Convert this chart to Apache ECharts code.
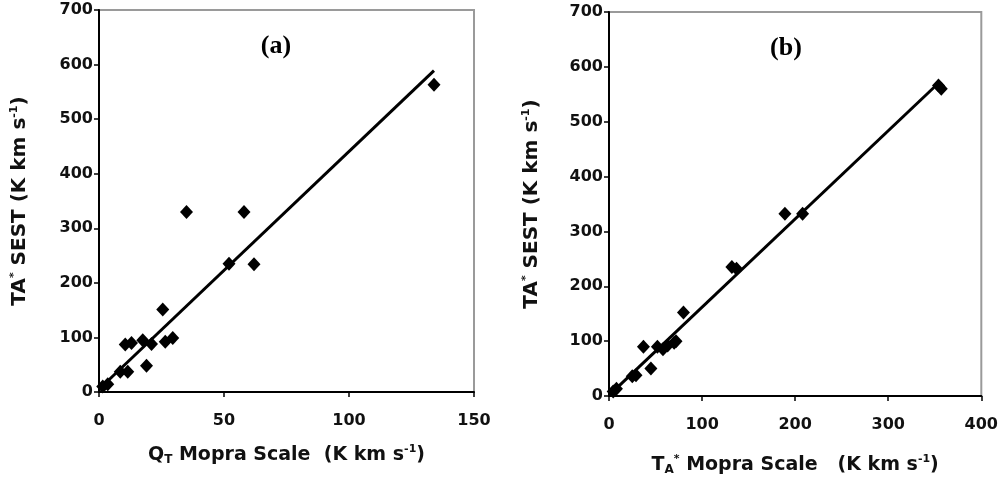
<!DOCTYPE html>
<html>
<head>
<meta charset="utf-8">
<script src="https://cdn.jsdelivr.net/npm/echarts@6/dist/echarts.min.js"></script>
<style>
  html, body { margin: 0; padding: 0; background: #fff; }
  #chartmain { width: 1001px; height: 483px; }
</style>
</head>
<body>
<div id="chartmain"></div>
<script>
// panel (a): QT Mopra scale vs TA* SEST
var qtMopra = [134, 35, 58, 52, 62, 25.5, 10.5, 13, 17.5, 21, 26.5, 29.5, 19, 8.5, 11.5, 1.5, 3.5];
var sestA = [563, 330, 330, 235, 234, 151, 87, 90, 95, 88, 92, 99, 48, 37, 37, 10, 14];
var fitAx = [0, 134];
var fitAy = [5, 589];

// panel (b): TA* Mopra scale vs TA* SEST
var taMopra = [354, 357, 189, 208, 132, 137, 80, 37, 52, 58, 63, 70, 72, 45, 25, 29, 4.5, 8];
var sestB = [566, 560, 332, 332, 235, 232, 152, 90, 90, 85, 92, 97, 100, 50, 36, 38, 8, 13];
var fitBx = [0, 355];
var fitBy = [1, 572];

var yTicks = [0, 100, 200, 300, 400, 500, 600, 700];

function pairs(xs, ys) {
	var out = [];
	for (var i = 0; i < xs.length; i++) {
		out.push([xs[i], ys[i]]);
	}
	return out;
}

var labelFont = {
	fontFamily : 'DejaVu Sans',
	fontWeight : 'bold',
	fontSize : 16,
	color : '#111'
};

var nameRich = {
	sup : { fontSize : 11, fontWeight : 'bold', verticalAlign : 'top', lineHeight : 22, fontFamily : 'DejaVu Sans', color : '#111' },
	sub : { fontSize : 12, fontWeight : 'bold', verticalAlign : 'bottom', lineHeight : 22, fontFamily : 'DejaVu Sans', color : '#111' }
};

function xAxisFor(idx, max, interval, name, gap) {
	return {
		type : 'value',
		gridIndex : idx,
		min : 0,
		max : max,
		interval : interval,
		name : name,
		nameLocation : 'middle',
		nameGap : gap,
		nameTextStyle : {
			fontFamily : 'DejaVu Sans',
			fontWeight : 'bold',
			fontSize : 19,
			color : '#111',
			lineHeight : 22,
			rich : nameRich
		},
		axisLine : { show : true, onZero : false, lineStyle : { color : '#000', width : 2 } },
		axisTick : { show : true, length : 5, lineStyle : { color : '#000', width : 1.5 } },
		axisLabel : Object.assign({ margin : 21 }, labelFont),
		splitLine : { show : false }
	};
}

function yAxisFor(idx, name, gap) {
	return {
		type : 'value',
		gridIndex : idx,
		min : yTicks[0],
		max : yTicks[yTicks.length - 1],
		interval : 100,
		name : name,
		nameLocation : 'middle',
		nameGap : gap,
		nameRotate : 90,
		nameTextStyle : {
			fontFamily : 'DejaVu Sans',
			fontWeight : 'bold',
			fontSize : 20,
			color : '#111',
			lineHeight : 22,
			rich : nameRich
		},
		axisLine : { show : true, onZero : false, lineStyle : { color : '#000', width : 2 } },
		axisTick : { show : true, length : 5, lineStyle : { color : '#000', width : 1.5 } },
		axisLabel : Object.assign({ margin : 6 }, labelFont),
		splitLine : { show : false }
	};
}

var option = {
	animation : false,
	backgroundColor : '#fff',
	title : [{
		text : '(a)',
		left : 271,
		top : 28,
		textAlign : 'center',
		textStyle : { fontFamily : 'Liberation Serif', fontWeight : 'bold', fontSize : 26, color : '#000' }
	}, {
		text : '(b)',
		left : 781,
		top : 30,
		textAlign : 'center',
		textStyle : { fontFamily : 'Liberation Serif', fontWeight : 'bold', fontSize : 26, color : '#000' }
	}],
	grid : [{
		left : 99, top : 10, width : 375, height : 382,
		show : true, borderColor : '#9a9a9a', borderWidth : 2, backgroundColor : 'transparent'
	}, {
		left : 609, top : 12, width : 375, height : 384,
		show : true, borderColor : '#9a9a9a', borderWidth : 2, backgroundColor : 'transparent'
	}],
	xAxis : [
		xAxisFor(0, 150, 50, 'Q{sub|T} Mopra Scale  (K km s{sup|-1})', 52),
		xAxisFor(1, 400, 100, 'T{sub|A}{sup|*} Mopra Scale   (K km s{sup|-1})', 58)
	],
	yAxis : [
		yAxisFor(0, 'TA{sup|*} SEST (K km s{sup|-1})', 68),
		yAxisFor(1, 'TA{sup|*} SEST (K km s{sup|-1})', 66)
	],
	series : [{
		name : 'fit a',
		type : 'line',
		xAxisIndex : 0,
		yAxisIndex : 0,
		data : pairs(fitAx, fitAy),
		showSymbol : false,
		lineStyle : { color : '#000', width : 3 },
		z : 2
	}, {
		name : 'a',
		type : 'scatter',
		xAxisIndex : 0,
		yAxisIndex : 0,
		data : pairs(qtMopra, sestA),
		symbol : 'diamond',
		symbolSize : [13, 14],
		itemStyle : { color : '#000', opacity : 1 },
		z : 3
	}, {
		name : 'fit b',
		type : 'line',
		xAxisIndex : 1,
		yAxisIndex : 1,
		data : pairs(fitBx, fitBy),
		showSymbol : false,
		lineStyle : { color : '#000', width : 3 },
		z : 2
	}, {
		name : 'b',
		type : 'scatter',
		xAxisIndex : 1,
		yAxisIndex : 1,
		data : pairs(taMopra, sestB),
		symbol : 'diamond',
		symbolSize : [13, 14],
		itemStyle : { color : '#000', opacity : 1 },
		z : 3
	}]
};

var myChart = echarts.init(document.getElementById('chartmain'), null, { renderer : 'canvas' });
myChart.setOption(option);
</script>
</body>
</html>
